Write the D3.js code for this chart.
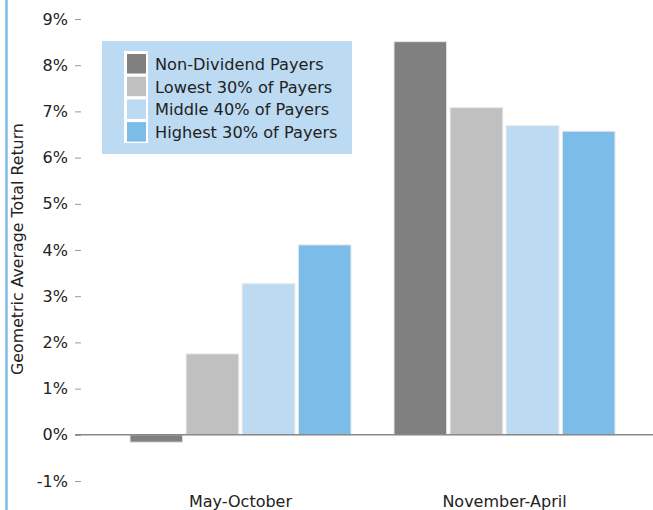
<!DOCTYPE html>
<html>
<head>
<meta charset="utf-8">
<script src="https://cdn.jsdelivr.net/npm/d3@7"></script>
<style>
  body { margin: 0; background: #fff; }
  text { font-family: "DejaVu Sans", sans-serif; fill: #222; }
</style>
</head>
<body>
<div id="chart"></div>
<script>
// Data
const periods = ['May-October', 'November-April'];
const groups = ['Non-Dividend Payers', 'Lowest 30% of Payers', 'Middle 40% of Payers', 'Highest 30% of Payers'];
const mayOct = [-0.16, 1.75, 3.27, 4.11];
const novApr = [8.51, 7.08, 6.69, 6.57];
const yTicks = [-1, 0, 1, 2, 3, 4, 5, 6, 7, 8, 9];
const colors = ['#808080', '#c0c0c0', '#bcdaf2', '#7bbde8'];

const values = [mayOct, novApr];

const width = 653;
const height = 510;

const svg = d3.select('#chart')
  .append('svg')
  .attr('width', width)
  .attr('height', height);

// left blue rule
svg.append('line')
  .attr('x1', 6.5).attr('x2', 6.5)
  .attr('y1', 0).attr('y2', height)
  .attr('stroke', '#7bbde8')
  .attr('stroke-width', 2.5);

// Scales
const y = d3.scaleLinear()
  .domain([-1, 9])
  .range([481, 19]);

const x0 = d3.scaleBand()
  .domain(periods)
  .range([108.5, 636.5])
  .paddingInner(0.163)
  .paddingOuter(0.0815);

const x1 = d3.scaleBand()
  .domain(groups)
  .range([0, x0.bandwidth()])
  .paddingInner(0.0625);

// y axis
const yAxis = svg.append('g')
  .attr('transform', 'translate(81,0)')
  .call(d3.axisLeft(y)
    .tickValues(yTicks)
    .tickSize(6)
    .tickPadding(7)
    .tickFormat(d => d + '%'));
yAxis.select('.domain').remove();
yAxis.selectAll('.tick line').attr('stroke', '#999');
yAxis.selectAll('.tick text')
  .attr('font-size', 16)
  .style('font-family', '"DejaVu Sans", sans-serif')
  .attr('fill', '#222');

// bars
periods.forEach((p, i) => {
  svg.append('g')
    .attr('transform', `translate(${x0(p)},0)`)
    .selectAll('rect')
    .data(values[i])
    .enter()
    .append('rect')
    .attr('x', (d, j) => x1(groups[j]))
    .attr('width', x1.bandwidth())
    .attr('y', d => y(Math.max(0, d)))
    .attr('height', d => Math.abs(y(d) - y(0)))
    .attr('fill', (d, j) => colors[j])
    .attr('stroke', '#e6e6e6')
    .attr('stroke-width', 1);
});

// zero line
svg.append('line')
  .attr('x1', 75).attr('x2', width)
  .attr('y1', y(0)).attr('y2', y(0))
  .attr('stroke', '#888')
  .attr('stroke-width', 1.5);

// x labels
svg.selectAll('.xlabel')
  .data(periods)
  .enter()
  .append('text')
  .attr('class', 'xlabel')
  .attr('x', d => x0(d) + x0.bandwidth() / 2)
  .attr('y', 507)
  .attr('text-anchor', 'middle')
  .attr('font-size', 16)
  .text(d => d);

// y title
svg.append('text')
  .attr('transform', 'translate(23,249) rotate(-90)')
  .attr('text-anchor', 'middle')
  .attr('font-size', 15.8)
  .text('Geometric Average Total Return');

// legend
const legend = svg.append('g');
legend.append('rect')
  .attr('x', 102).attr('y', 41)
  .attr('width', 250).attr('height', 113)
  .attr('fill', '#bcdaf2');
legend.append('rect')
  .attr('x', 124).attr('y', 51)
  .attr('width', 24).attr('height', 92)
  .attr('fill', '#fff');
groups.forEach((g, i) => {
  legend.append('rect')
    .attr('x', 127).attr('y', 54 + i * 22.7)
    .attr('width', 19).attr('height', 19.5)
    .attr('fill', colors[i]);
  legend.append('text')
    .attr('x', 155)
    .attr('y', 64 + i * 22.7)
    .attr('dy', '0.36em')
    .attr('font-size', 16.2)
    .text(g);
});
</script>
</body>
</html>
